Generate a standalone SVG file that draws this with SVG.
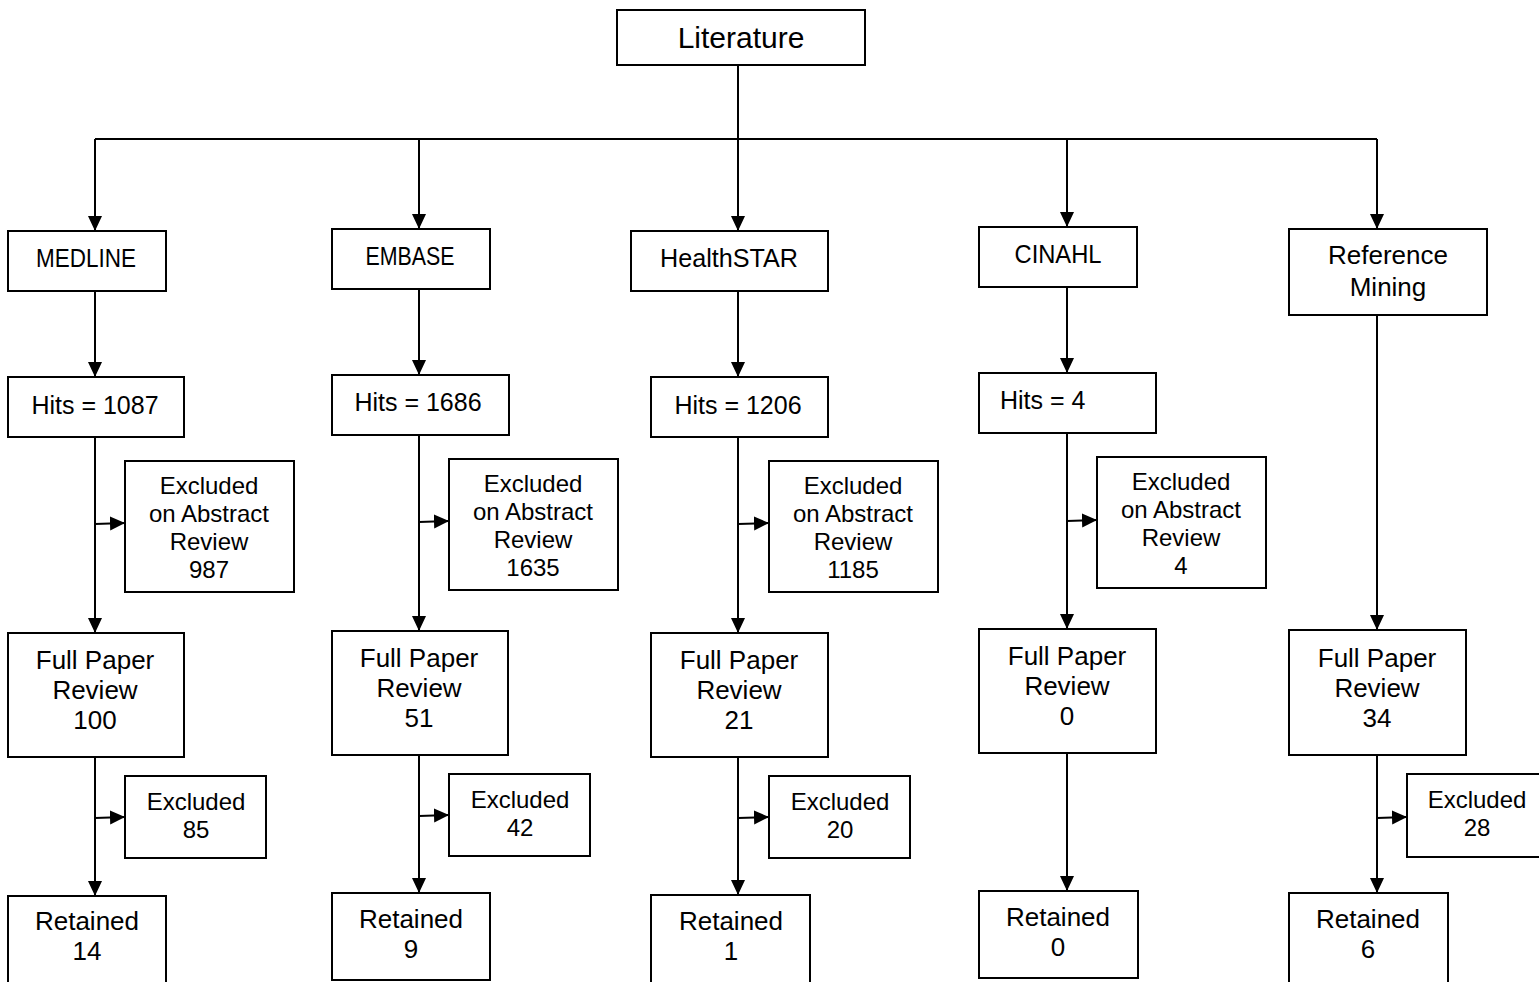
<svg xmlns="http://www.w3.org/2000/svg" width="1539" height="982" viewBox="0 0 1539 982">
<style>
rect{fill:#fff;stroke:#000;stroke-width:2}
text{font-family:"Liberation Sans",Arial,sans-serif;font-size:25px;fill:#000;text-anchor:middle}
.c path,.c line{stroke:#000;stroke-width:2;fill:none}
.sm{font-size:24px}
.lg{font-size:26px}
</style>
<defs>
<marker id="ah" markerUnits="userSpaceOnUse" markerWidth="16" markerHeight="16" viewBox="0 0 16 16" refX="15" refY="8" orient="auto">
<path d="M0,1 L15,8 L0,15 Z" fill="#000"/>
</marker>
</defs>
<rect x="0" y="0" width="1539" height="982" style="stroke:none"/>
<g class="c" id="connectors">
<path d="M738,65 V139 M95,139 H1377"/>
<line x1="95" y1="139" x2="95" y2="231" marker-end="url(#ah)"/>
<line x1="419" y1="139" x2="419" y2="229" marker-end="url(#ah)"/>
<line x1="738" y1="139" x2="738" y2="231" marker-end="url(#ah)"/>
<line x1="1067" y1="139" x2="1067" y2="227" marker-end="url(#ah)"/>
<line x1="1377" y1="139" x2="1377" y2="229" marker-end="url(#ah)"/>
<line x1="95" y1="291" x2="95" y2="377" marker-end="url(#ah)"/>
<line x1="95" y1="437" x2="95" y2="633" marker-end="url(#ah)"/>
<line x1="95" y1="524" x2="125" y2="523" marker-end="url(#ah)"/>
<line x1="95" y1="757" x2="95" y2="896" marker-end="url(#ah)"/>
<line x1="95" y1="818" x2="125" y2="817" marker-end="url(#ah)"/>
<line x1="419" y1="289" x2="419" y2="375" marker-end="url(#ah)"/>
<line x1="419" y1="435" x2="419" y2="631" marker-end="url(#ah)"/>
<line x1="419" y1="522" x2="449" y2="521" marker-end="url(#ah)"/>
<line x1="419" y1="755" x2="419" y2="893" marker-end="url(#ah)"/>
<line x1="419" y1="816" x2="449" y2="815" marker-end="url(#ah)"/>
<line x1="738" y1="291" x2="738" y2="377" marker-end="url(#ah)"/>
<line x1="738" y1="437" x2="738" y2="633" marker-end="url(#ah)"/>
<line x1="738" y1="524" x2="769" y2="523" marker-end="url(#ah)"/>
<line x1="738" y1="757" x2="738" y2="895" marker-end="url(#ah)"/>
<line x1="738" y1="818" x2="769" y2="817" marker-end="url(#ah)"/>
<line x1="1067" y1="287" x2="1067" y2="373" marker-end="url(#ah)"/>
<line x1="1067" y1="433" x2="1067" y2="629" marker-end="url(#ah)"/>
<line x1="1067" y1="521" x2="1097" y2="520" marker-end="url(#ah)"/>
<line x1="1067" y1="753" x2="1067" y2="891" marker-end="url(#ah)"/>
<line x1="1377" y1="315" x2="1377" y2="630" marker-end="url(#ah)"/>
<line x1="1377" y1="755" x2="1377" y2="893" marker-end="url(#ah)"/>
<line x1="1377" y1="818" x2="1407" y2="817" marker-end="url(#ah)"/>
</g>
<g id="literature"><rect x="617" y="10" width="248" height="55"/><text x="741" y="48" style="font-size:30px">Literature</text></g>

<g id="medline"><rect x="8" y="231" width="158" height="60"/><text x="86" y="267" textLength="100" lengthAdjust="spacingAndGlyphs">MEDLINE</text></g>
<g id="hits1"><rect x="8" y="377" width="176" height="60"/><text x="95" y="414">Hits = 1087</text></g>
<g id="exab1"><rect x="125" y="461" width="169" height="131"/><text class="sm" x="209" y="494">Excluded</text><text class="sm" x="209" y="522">on Abstract</text><text class="sm" x="209" y="550">Review</text><text class="sm" x="209" y="578">987</text></g>
<g id="full1"><rect x="8" y="633" width="176" height="124"/><text class="lg" x="95" y="669">Full Paper</text><text class="lg" x="95" y="699">Review</text><text class="lg" x="95" y="729">100</text></g>
<g id="ex1"><rect x="125" y="776" width="141" height="82"/><text class="sm" x="196" y="810">Excluded</text><text class="sm" x="196" y="838">85</text></g>
<g id="ret1"><rect x="8" y="896" width="158" height="90"/><text class="lg" x="87" y="930">Retained</text><text class="lg" x="87" y="960">14</text></g>

<g id="embase"><rect x="332" y="229" width="158" height="60"/><text x="410" y="265" textLength="89" lengthAdjust="spacingAndGlyphs">EMBASE</text></g>
<g id="hits2"><rect x="332" y="375" width="177" height="60"/><text x="418" y="411">Hits = 1686</text></g>
<g id="exab2"><rect x="449" y="459" width="169" height="131"/><text class="sm" x="533" y="492">Excluded</text><text class="sm" x="533" y="520">on Abstract</text><text class="sm" x="533" y="548">Review</text><text class="sm" x="533" y="576">1635</text></g>
<g id="full2"><rect x="332" y="631" width="176" height="124"/><text class="lg" x="419" y="667">Full Paper</text><text class="lg" x="419" y="697">Review</text><text class="lg" x="419" y="727">51</text></g>
<g id="ex2"><rect x="449" y="774" width="141" height="82"/><text class="sm" x="520" y="808">Excluded</text><text class="sm" x="520" y="836">42</text></g>
<g id="ret2"><rect x="332" y="893" width="158" height="87"/><text class="lg" x="411" y="928">Retained</text><text class="lg" x="411" y="958">9</text></g>

<g id="healthstar"><rect x="631" y="231" width="197" height="60"/><text x="729" y="267" textLength="138" lengthAdjust="spacingAndGlyphs">HealthSTAR</text></g>
<g id="hits3"><rect x="651" y="377" width="177" height="60"/><text x="738" y="414">Hits = 1206</text></g>
<g id="exab3"><rect x="769" y="461" width="169" height="131"/><text class="sm" x="853" y="494">Excluded</text><text class="sm" x="853" y="522">on Abstract</text><text class="sm" x="853" y="550">Review</text><text class="sm" x="853" y="578">1185</text></g>
<g id="full3"><rect x="651" y="633" width="177" height="124"/><text class="lg" x="739" y="669">Full Paper</text><text class="lg" x="739" y="699">Review</text><text class="lg" x="739" y="729">21</text></g>
<g id="ex3"><rect x="769" y="776" width="141" height="82"/><text class="sm" x="840" y="810">Excluded</text><text class="sm" x="840" y="838">20</text></g>
<g id="ret3"><rect x="651" y="895" width="159" height="90"/><text class="lg" x="731" y="930">Retained</text><text class="lg" x="731" y="960">1</text></g>

<g id="cinahl"><rect x="979" y="227" width="158" height="60"/><text x="1058" y="263" textLength="87" lengthAdjust="spacingAndGlyphs">CINAHL</text></g>
<g id="hits4"><rect x="979" y="373" width="177" height="60"/><text x="1000" y="409" style="text-anchor:start">Hits = 4</text></g>
<g id="exab4"><rect x="1097" y="457" width="169" height="131"/><text class="sm" x="1181" y="490">Excluded</text><text class="sm" x="1181" y="518">on Abstract</text><text class="sm" x="1181" y="546">Review</text><text class="sm" x="1181" y="574">4</text></g>
<g id="full4"><rect x="979" y="629" width="177" height="124"/><text class="lg" x="1067" y="665">Full Paper</text><text class="lg" x="1067" y="695">Review</text><text class="lg" x="1067" y="725">0</text></g>
<g id="ret4"><rect x="979" y="891" width="159" height="87"/><text class="lg" x="1058" y="926">Retained</text><text class="lg" x="1058" y="956">0</text></g>

<g id="refmining"><rect x="1289" y="229" width="198" height="86"/><text class="lg" x="1388" y="264">Reference</text><text class="lg" x="1388" y="296">Mining</text></g>
<g id="full5"><rect x="1289" y="630" width="177" height="125"/><text class="lg" x="1377" y="667">Full Paper</text><text class="lg" x="1377" y="697">Review</text><text class="lg" x="1377" y="727">34</text></g>
<g id="ex5"><rect x="1407" y="774" width="140" height="83"/><text class="sm" x="1477" y="808">Excluded</text><text class="sm" x="1477" y="836">28</text></g>
<g id="ret5"><rect x="1289" y="893" width="159" height="92"/><text class="lg" x="1368" y="928">Retained</text><text class="lg" x="1368" y="958">6</text></g>
</svg>
